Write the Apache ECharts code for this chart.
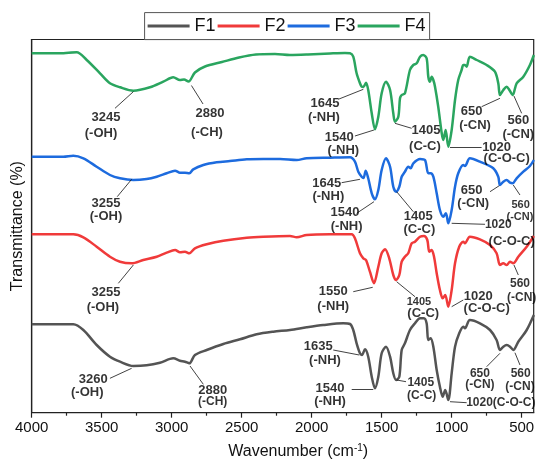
<!DOCTYPE html>
<html><head><meta charset="utf-8">
<script src="https://cdn.jsdelivr.net/npm/echarts@6/dist/echarts.min.js"></script>
<style>html,body{margin:0;padding:0;background:#fff}#c{width:536px;height:463px}</style>
</head><body><div id="c"></div>
<script>
// Wavenumber (cm-1), offset transmittance (a.u.)
const F1 = [[4000,88.4],[3703,88.4],[3631,82.7],[3536,67.7],[3441,56],[3369,51],[3274,46.7],[3179,47.4],[3084,50],[2989,54.4],[2941,52],[2905,51],[2874,49.4],[2834,57.7],[2750,62.7],[2631,68.7],[2512,73.4],[2393,78.4],[2274,81],[2155,82.7],[2036,85.4],[1917,87.7],[1774,89.4],[1726,88.7],[1703,82.7],[1679,69.4],[1655,59.4],[1641,57.7],[1619,63.4],[1596,56],[1571,36],[1548,24.4],[1524,36],[1500,59.4],[1469,66],[1440,56],[1417,39.4],[1397,32.7],[1374,36],[1357,62.7],[1334,69.4],[1298,82.7],[1262,89.4],[1226,94.4],[1198,94.4],[1179,89.4],[1167,72.7],[1150,74.4],[1131,66],[1107,42.7],[1084,26],[1064,16],[1046,22.7],[1024,12.7],[1000,39.4],[976,66],[946,79.4],[917,86],[905,84.4],[870,92.7],[798,89.4],[726,82.7],[679,72.7],[655,62.7],[631,66],[607,67.7],[583,66],[560,62.7],[524,71],[464,82.7],[413,97.7]];
const F2 = [[4000,178.4],[3703,178.4],[3631,175.4],[3536,166],[3441,156],[3369,151],[3286,149.4],[3203,152.7],[3107,156],[3036,160],[2976,162.7],[2941,160.4],[2905,161],[2874,159.4],[2834,164.4],[2750,168.4],[2631,172],[2464,175],[2346,176],[2155,176.7],[2107,175.4],[2036,177.7],[1869,178.4],[1714,178.4],[1691,174.4],[1655,159.4],[1631,154.4],[1612,152.7],[1584,141],[1555,129.4],[1524,146],[1500,159.4],[1476,163.4],[1446,154.4],[1417,137.7],[1397,132.7],[1374,137.7],[1357,151],[1334,156],[1310,159.4],[1286,169.4],[1262,171],[1226,176],[1198,176.7],[1174,172.7],[1160,161],[1143,162.7],[1126,156],[1107,139.4],[1084,122.7],[1064,114.4],[1046,117.7],[1024,106],[1000,122.7],[976,149.4],[946,166],[917,171],[905,169.4],[870,176],[798,173.4],[726,167.7],[679,159.4],[655,147.7],[631,149.4],[607,147.7],[583,151],[560,149.4],[524,156],[464,166],[413,176.7]];
const F3 = [[4000,256],[3774,256],[3703,257],[3631,254.4],[3536,246],[3441,237.7],[3369,234.4],[3274,232.7],[3179,233.7],[3107,236],[3036,239.4],[2976,242],[2941,240],[2905,240],[2874,239.4],[2846,243.4],[2774,247.7],[2679,250.4],[2584,251.7],[2464,253.4],[2346,253.7],[2226,253.7],[2107,252.7],[2036,254.4],[1869,255],[1726,255.4],[1691,251],[1667,241],[1643,236],[1630,234.7],[1614,242],[1596,234.4],[1571,219.4],[1548,213.4],[1524,222.7],[1500,242.7],[1469,254.4],[1440,246],[1417,226],[1397,221],[1374,226],[1357,236],[1334,241],[1310,246],[1293,244.4],[1274,249.4],[1226,253.7],[1191,252.7],[1167,239.4],[1150,239.4],[1131,236],[1107,219.4],[1084,202.7],[1060,196],[1041,199.4],[1024,189.4],[1000,202.7],[976,226],[953,239.4],[917,247.7],[905,246.7],[870,254.4],[798,251],[703,244.4],[667,236],[655,227.7],[631,231],[607,232.7],[583,230],[564,229.4],[536,234.4],[488,241],[441,246.7],[413,252.7]];
const F4 = [[4000,359.4],[3798,359.4],[3679,360.4],[3607,352.7],[3512,339.4],[3441,329.4],[3369,325.4],[3274,322],[3155,325.4],[3060,331],[2989,335.4],[2941,332.7],[2912,333.2],[2880,331.2],[2834,340.2],[2762,346.2],[2641,350.7],[2519,355.2],[2398,358.2],[2262,358.7],[2155,357.7],[2026,358.2],[1869,359.2],[1762,359.7],[1726,359.4],[1703,356],[1679,339.4],[1655,329.4],[1643,326],[1631,325.7],[1612,330],[1596,322.7],[1571,299.4],[1548,283.4],[1524,296],[1500,319.4],[1469,331],[1440,322.7],[1417,299.4],[1405,291],[1381,296],[1369,314.4],[1357,317.7],[1334,319.4],[1298,342.7],[1274,347.7],[1250,349.4],[1226,356],[1203,357.7],[1179,354.4],[1167,336],[1155,331],[1143,336],[1131,332.7],[1119,326],[1096,306],[1071,279.4],[1060,272.7],[1043,282.7],[1024,266],[1000,282.7],[976,312.7],[953,332.7],[929,342.7],[917,347.7],[905,347.7],[893,346],[870,356],[821,352.7],[750,347.7],[691,341],[667,329.4],[655,317.7],[631,322.7],[607,326],[588,322.7],[564,317.7],[536,329.4],[488,336],[441,347.7],[413,357.7]];

const seriesNames = ['F1','F2','F3','F4'];
const seriesColors = ['#545454','#f03a3a','#1d6bde','#2aa55f'];
const majorTicks = [4000,3500,3000,2500,2000,1500,1000,500];
const minorTicks = [3750,3250,2750,2250,1750,1250,750];

// annotation labels: [text, wavenumber, value, fontSize]
const annotTexts = [
  ['3245',3469,295.7,13],['(-OH)',3505,279.7,13],
  ['2880',2726,299.7,13],['(-CH)',2748,280.1,13],
  ['1645',1905,309.4,13],['(-NH)',1912,295,13],
  ['1540',1803,275.4,13],['(-NH)',1774,262.7,13],
  ['1405',1184,282,13],['(C-C)',1191,266,13],
  ['1020',679,265.4,13],['(C-O-C)',607,254.4,13],
  ['650',857,301.7,13],['(-CN)',833,287.7,13],
  ['560',524,292.7,13],['(-CN)',524,278.7,13],

  ['3255',3469,209.4,13],['(-OH)',3469,196,13],
  ['1645',1893,229.7,13],['(-NH)',1881,216.7,13],
  ['1540',1762,200,13],['(-NH)',1750,186,13],
  ['1405',1239,196,13],['(C-C)',1231,183.4,13],
  ['1020',667,187.7,12],['(C-O-C)',571,171,13],
  ['650',857,222.7,13],['(-CN)',846,209.4,13],
  ['560',507,207.7,11],['(-CN)',512,196,11],

  ['3255',3469,120.7,13],['(-OH)',3491,105.7,13],
  ['1550',1846,121,13],['(-NH)',1846,106,13],
  ['1405',1234,111,11],['(C-C)',1203,99.4,13],
  ['1020',810,116.7,13],['(C-O-C)',750,104.4,13],
  ['560',512,129.4,12],['(-CN)',500,115.4,12],

  ['3260',3560,33.4,13],['(-OH)',3603,20,13],
  ['2880',2707,22.7,13],['(-CH)',2707,11,12],
  ['1635',1953,66,13],['(-NH)',1905,52,13],
  ['1540',1869,24.4,13],['(-NH)',1869,11,13],
  ['1405',1221,30,12],['(C-C)',1214,16.7,12],
  ['650',798,38.7,12],['(-CN)',798,27.7,12],
  ['560',507,38.7,12],['(-CN)',512,26,12],
  ['1020(C-O-C)',649,10,12]
];
// arrows: [fromWn, fromValue, toWn, toValue]
const annotArrows = [
  [3405,304.4,3274,321],[2776,308.7,2859,327.2],[1810,313.4,1631,323.4],[1691,276.7,1555,282.7],
  [1286,284.4,1405,289.4],[786,265.4,1012,265.4],[786,306,655,314.4],[500,299.4,555,316.7],
  [3389,216,3286,233.4],[1786,230,1655,233.4],[1679,199.4,1555,211],[1274,201,1393,221],
  [762,188.4,1000,189.4],[726,221,660,227],[512,217.7,560,227.7],
  [3381,129.4,3274,147.7],[1703,121,1564,125.4],[1262,116,1393,131],[917,112.7,1000,106],[524,137.7,555,147.7],
  [3441,34.4,3286,44.4],[2774,28.4,2869,46.7],[1846,62.7,1660,57.7],[1714,23.4,1560,23.4],
  [1326,31,1393,32.7],[750,46,655,59.4],[512,47.7,548,60],[893,10,1012,11]
];

const chart = echarts.init(document.getElementById('c'), null, {renderer:'canvas'});
const FONT = 'Arial, "Liberation Sans", sans-serif';
const dataSets = [F1,F2,F3,F4];
const lineSeries = seriesNames.map((n,i)=>({
  name:n, type:'line', data:dataSets[i], symbol:'none', smooth:0.3,
  lineStyle:{width:2.5,color:seriesColors[i]}, itemStyle:{color:seriesColors[i]},
  z:2, animation:false
}));
const annotSeries = {
  type:'scatter', name:'annot', symbolSize:0, silent:true, animation:false, z:5,
  itemStyle:{color:'#000'},
  data: annotTexts.map(a=>({value:[a[1],a[2]], label:{show:true, position:'inside', formatter:a[0], fontSize:a[3], fontWeight:'bold', color:'#000', textBorderWidth:0, fontFamily:FONT}})),
  markLine:{silent:true, animation:false, symbol:['none','arrow'], symbolSize:[0,6],
    lineStyle:{color:'#111', width:0.8, type:'solid'}, label:{show:false},
    data: annotArrows.map(a=>[{coord:[a[0],a[1]]},{coord:[a[2],a[3]]}])}
};
chart.setOption({
  animation:false,
  legend:{data:seriesNames, left:144.6, top:12.6, orient:'horizontal', icon:'rect', itemWidth:42, itemHeight:3, itemGap:2,
    padding:[4,4,4,3], borderColor:'#555', borderWidth:1, backgroundColor:'#fff',
    textStyle:{fontSize:18, color:'#111', fontFamily:FONT, lineHeight:19}},
  grid:{left:31.7, top:39.5, right:2.3, bottom:50.3, show:true, borderColor:'#222', borderWidth:1.2, containLabel:false, outerBoundsMode:'none'},
  xAxis:[{type:'value', inverse:true, min:414, max:4000,
    name:'{a|Wavenumber (cm}{s|-1}{a|)}', nameLocation:'middle', nameGap:31,
    nameTextStyle:{padding:[0,0,0,31], rich:{a:{fontSize:16,color:'#111',fontFamily:FONT}, s:{fontSize:10,color:'#111',fontFamily:FONT,verticalAlign:'top',padding:[0,0,6,0]}}},
    axisLine:{onZero:false, lineStyle:{color:'#222', width:1.2}},
    axisTick:{customValues:majorTicks, length:5, lineStyle:{color:'#222', width:1.2}},
    axisLabel:{customValues:majorTicks, fontSize:15, color:'#111', margin:8, fontFamily:FONT, formatter:(v)=>String(v)},
    splitLine:{show:false}},
   {type:'value', inverse:true, min:414, max:4000, position:'bottom',
    axisLine:{show:false, onZero:false}, axisLabel:{show:false},
    axisTick:{customValues:minorTicks, length:3, lineStyle:{color:'#222', width:1.2}}, splitLine:{show:false}}],
  yAxis:{type:'value', min:0, max:373.2, name:'Transmittance (%)', nameLocation:'middle', nameGap:6,
    nameTextStyle:{fontSize:16, color:'#111', fontFamily:FONT},
    axisLine:{show:true, onZero:false, lineStyle:{color:'#222', width:1.2}}, axisTick:{show:false}, axisLabel:{show:false}, splitLine:{show:false}},
  series:[...lineSeries, annotSeries]
});
</script></body></html>
